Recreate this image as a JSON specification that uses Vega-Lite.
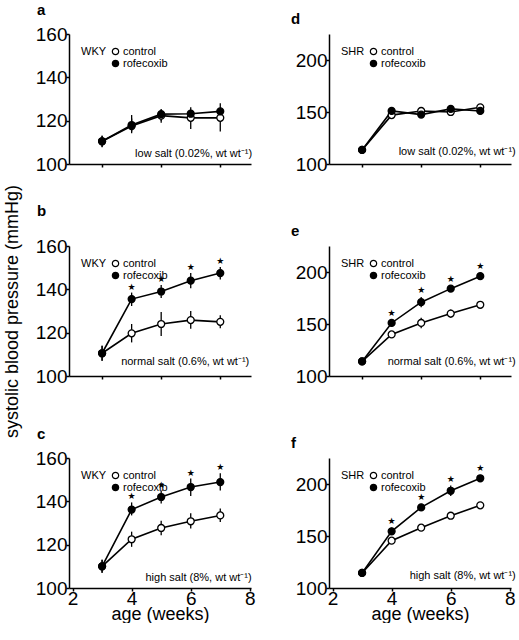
{
"$schema":"https://vega.github.io/schema/vega-lite/v6.json",
"padding":{"left":3,"top":3,"right":0,"bottom":0},
"datasets":{
"bp":[
{"panel":"a","age":3,"treatment":"control","bp":110.5,"lo":107.7,"hi":113,"sig":0},
{"panel":"a","age":4,"treatment":"control","bp":117.5,"lo":114.2,"hi":121,"sig":0},
{"panel":"a","age":5,"treatment":"control","bp":122.3,"lo":119,"hi":125,"sig":0},
{"panel":"a","age":6,"treatment":"control","bp":121.3,"lo":116.2,"hi":124.5,"sig":0},
{"panel":"a","age":7,"treatment":"control","bp":121.3,"lo":115,"hi":125,"sig":0},
{"panel":"a","age":3,"treatment":"rofecoxib","bp":110.5,"lo":108,"hi":113,"sig":0},
{"panel":"a","age":4,"treatment":"rofecoxib","bp":118,"lo":115,"hi":122.6,"sig":0},
{"panel":"a","age":5,"treatment":"rofecoxib","bp":123,"lo":120,"hi":125.4,"sig":0},
{"panel":"a","age":6,"treatment":"rofecoxib","bp":123.2,"lo":120.5,"hi":126.2,"sig":0},
{"panel":"a","age":7,"treatment":"rofecoxib","bp":124.3,"lo":121,"hi":128,"sig":0},
{"panel":"b","age":3,"treatment":"control","bp":110.5,"lo":107,"hi":114,"sig":0},
{"panel":"b","age":4,"treatment":"control","bp":119.7,"lo":115.5,"hi":124,"sig":0},
{"panel":"b","age":5,"treatment":"control","bp":124,"lo":118.5,"hi":129.5,"sig":0},
{"panel":"b","age":6,"treatment":"control","bp":125.8,"lo":121.8,"hi":130,"sig":0},
{"panel":"b","age":7,"treatment":"control","bp":125,"lo":122,"hi":128,"sig":0},
{"panel":"b","age":3,"treatment":"rofecoxib","bp":110.5,"lo":107,"hi":114,"sig":0},
{"panel":"b","age":4,"treatment":"rofecoxib","bp":135.5,"lo":132.3,"hi":138.5,"sig":1},
{"panel":"b","age":5,"treatment":"rofecoxib","bp":139,"lo":136,"hi":142,"sig":1},
{"panel":"b","age":6,"treatment":"rofecoxib","bp":144,"lo":140.5,"hi":147.5,"sig":1},
{"panel":"b","age":7,"treatment":"rofecoxib","bp":147.5,"lo":144.5,"hi":150.3,"sig":1},
{"panel":"c","age":3,"treatment":"control","bp":110,"lo":107,"hi":113,"sig":0},
{"panel":"c","age":4,"treatment":"control","bp":122.5,"lo":119,"hi":126,"sig":0},
{"panel":"c","age":5,"treatment":"control","bp":127.7,"lo":124.3,"hi":131,"sig":0},
{"panel":"c","age":6,"treatment":"control","bp":130.8,"lo":127.5,"hi":134.5,"sig":0},
{"panel":"c","age":7,"treatment":"control","bp":133.5,"lo":130.5,"hi":136.7,"sig":0},
{"panel":"c","age":3,"treatment":"rofecoxib","bp":110,"lo":107,"hi":113,"sig":0},
{"panel":"c","age":4,"treatment":"rofecoxib","bp":136.2,"lo":133.5,"hi":139.5,"sig":1},
{"panel":"c","age":5,"treatment":"rofecoxib","bp":142,"lo":139,"hi":145,"sig":1},
{"panel":"c","age":6,"treatment":"rofecoxib","bp":146.6,"lo":142.5,"hi":150.5,"sig":1},
{"panel":"c","age":7,"treatment":"rofecoxib","bp":148.9,"lo":145,"hi":153,"sig":1},
{"panel":"d","age":3,"treatment":"control","bp":113.5,"lo":111.5,"hi":115.5,"sig":0},
{"panel":"d","age":4,"treatment":"control","bp":147,"lo":145,"hi":149,"sig":0},
{"panel":"d","age":5,"treatment":"control","bp":151,"lo":149,"hi":153,"sig":0},
{"panel":"d","age":6,"treatment":"control","bp":150,"lo":148,"hi":152,"sig":0},
{"panel":"d","age":7,"treatment":"control","bp":154.5,"lo":152.5,"hi":156.5,"sig":0},
{"panel":"d","age":3,"treatment":"rofecoxib","bp":113.5,"lo":111.5,"hi":115.5,"sig":0},
{"panel":"d","age":4,"treatment":"rofecoxib","bp":151,"lo":148.5,"hi":153.5,"sig":0},
{"panel":"d","age":5,"treatment":"rofecoxib","bp":147.5,"lo":145.5,"hi":149.5,"sig":0},
{"panel":"d","age":6,"treatment":"rofecoxib","bp":153,"lo":151,"hi":155,"sig":0},
{"panel":"d","age":7,"treatment":"rofecoxib","bp":151,"lo":149,"hi":153,"sig":0},
{"panel":"e","age":3,"treatment":"control","bp":114,"lo":111.5,"hi":116.5,"sig":0},
{"panel":"e","age":4,"treatment":"control","bp":140,"lo":137.5,"hi":142.5,"sig":0},
{"panel":"e","age":5,"treatment":"control","bp":151,"lo":146,"hi":156,"sig":0},
{"panel":"e","age":6,"treatment":"control","bp":160,"lo":156,"hi":164,"sig":0},
{"panel":"e","age":7,"treatment":"control","bp":168.5,"lo":166,"hi":171,"sig":0},
{"panel":"e","age":3,"treatment":"rofecoxib","bp":114,"lo":111.5,"hi":116.5,"sig":0},
{"panel":"e","age":4,"treatment":"rofecoxib","bp":151,"lo":148,"hi":154,"sig":1},
{"panel":"e","age":5,"treatment":"rofecoxib","bp":171,"lo":166,"hi":176,"sig":1},
{"panel":"e","age":6,"treatment":"rofecoxib","bp":184,"lo":181,"hi":187,"sig":1},
{"panel":"e","age":7,"treatment":"rofecoxib","bp":196,"lo":193,"hi":199,"sig":1},
{"panel":"f","age":3,"treatment":"control","bp":114.5,"lo":112,"hi":117,"sig":0},
{"panel":"f","age":4,"treatment":"control","bp":145.5,"lo":143,"hi":148,"sig":0},
{"panel":"f","age":5,"treatment":"control","bp":158,"lo":156,"hi":160,"sig":0},
{"panel":"f","age":6,"treatment":"control","bp":169.5,"lo":167.5,"hi":171.5,"sig":0},
{"panel":"f","age":7,"treatment":"control","bp":179.5,"lo":177,"hi":182,"sig":0},
{"panel":"f","age":3,"treatment":"rofecoxib","bp":114.5,"lo":112,"hi":117,"sig":0},
{"panel":"f","age":4,"treatment":"rofecoxib","bp":154.5,"lo":151,"hi":158,"sig":1},
{"panel":"f","age":5,"treatment":"rofecoxib","bp":177.5,"lo":174,"hi":181,"sig":1},
{"panel":"f","age":6,"treatment":"rofecoxib","bp":193.5,"lo":188.5,"hi":198.5,"sig":1},
{"panel":"f","age":7,"treatment":"rofecoxib","bp":205.5,"lo":202.5,"hi":208.5,"sig":1}
],
"notes":[
{"panel":"a","note":"low salt (0.02%, wt wt⁻¹)"},
{"panel":"b","note":"normal salt (0.6%, wt wt⁻¹)"},
{"panel":"c","note":"high salt (8%, wt wt⁻¹)"},
{"panel":"d","note":"low salt (0.02%, wt wt⁻¹)"},
{"panel":"e","note":"normal salt (0.6%, wt wt⁻¹)"},
{"panel":"f","note":"high salt (8%, wt wt⁻¹)"}
]
},
"concat":[
{"width":182,"height":130,"title":{"text":"a","dx":-32},"data":{"name":"bp"},"transform":[{"filter":"datum.panel == 'a'"}],
"layer":[
{"mark":{"type":"rule","color":"black","strokeWidth":1.3},"encoding":{"x":{"field":"age","type":"quantitative","scale":{"domain":[1.88,8.04],"nice":false},"axis":{"values":[3,4,5,6,7,8],"labels":false,"title":null}},"y":{"field":"lo","type":"quantitative","scale":{"domain":[100,160],"nice":false,"zero":false},"axis":{"values":[100,120,140,160],"title":null}},"y2":{"field":"hi"},"detail":{"field":"treatment"}}},
{"mark":{"type":"line","color":"black","strokeWidth":1.6},"encoding":{"x":{"field":"age","type":"quantitative","scale":{"domain":[1.88,8.04],"nice":false}},"y":{"field":"bp","type":"quantitative","scale":{"domain":[100,160],"nice":false,"zero":false}},"detail":{"field":"treatment"},"order":{"field":"age"}}},
{"mark":{"type":"point","shape":"circle","filled":true,"stroke":"black","strokeWidth":1.3,"size":48,"opacity":1},"encoding":{"x":{"field":"age","type":"quantitative","scale":{"domain":[1.88,8.04],"nice":false}},"y":{"field":"bp","type":"quantitative","scale":{"domain":[100,160],"nice":false,"zero":false}},"fill":{"field":"treatment","type":"nominal","scale":{"domain":["control","rofecoxib"],"range":["white","black"]},"legend":{"title":"WKY"}}}},
{"data":{"name":"notes"},"transform":[{"filter":"datum.panel == 'a'"}],"mark":{"type":"text","align":"right","baseline":"middle","fontSize":11,"color":"black"},"encoding":{"x":{"datum":8.08,"type":"quantitative","scale":{"domain":[1.88,8.04],"nice":false}},"y":{"datum":104.6,"type":"quantitative","scale":{"domain":[100,160],"nice":false,"zero":false}},"text":{"field":"note"}}}
]},
{"width":182,"height":130,"title":{"text":"d","dx":-38},"data":{"name":"bp"},"transform":[{"filter":"datum.panel == 'd'"}],
"layer":[
{"mark":{"type":"rule","color":"black","strokeWidth":1.3},"encoding":{"x":{"field":"age","type":"quantitative","scale":{"domain":[1.88,8.04],"nice":false},"axis":{"values":[3,4,5,6,7,8],"labels":false,"title":null}},"y":{"field":"lo","type":"quantitative","scale":{"domain":[100,225],"nice":false,"zero":false},"axis":{"values":[100,125,150,175,200],"labelExpr":"datum.value % 50 == 0 ? datum.label : ''","title":null}},"y2":{"field":"hi"},"detail":{"field":"treatment"}}},
{"mark":{"type":"line","color":"black","strokeWidth":1.6},"encoding":{"x":{"field":"age","type":"quantitative","scale":{"domain":[1.88,8.04],"nice":false}},"y":{"field":"bp","type":"quantitative","scale":{"domain":[100,225],"nice":false,"zero":false}},"detail":{"field":"treatment"},"order":{"field":"age"}}},
{"mark":{"type":"point","shape":"circle","filled":true,"stroke":"black","strokeWidth":1.3,"size":48,"opacity":1},"encoding":{"x":{"field":"age","type":"quantitative","scale":{"domain":[1.88,8.04],"nice":false}},"y":{"field":"bp","type":"quantitative","scale":{"domain":[100,225],"nice":false,"zero":false}},"fill":{"field":"treatment","type":"nominal","scale":{"domain":["control","rofecoxib"],"range":["white","black"]},"legend":{"title":"SHR"}}}},
{"data":{"name":"notes"},"transform":[{"filter":"datum.panel == 'd'"}],"mark":{"type":"text","align":"right","baseline":"middle","fontSize":11,"color":"black"},"encoding":{"x":{"datum":8.2,"type":"quantitative","scale":{"domain":[1.88,8.04],"nice":false}},"y":{"datum":111.5,"type":"quantitative","scale":{"domain":[100,225],"nice":false,"zero":false}},"text":{"field":"note"}}}
]},
{"width":182,"height":130,"title":{"text":"b","dx":-32,"dy":42},"data":{"name":"bp"},"transform":[{"filter":"datum.panel == 'b'"}],
"layer":[
{"mark":{"type":"rule","color":"black","strokeWidth":1.3},"encoding":{"x":{"field":"age","type":"quantitative","scale":{"domain":[1.88,8.04],"nice":false},"axis":{"values":[3,4,5,6,7,8],"labels":false,"title":null}},"y":{"field":"lo","type":"quantitative","scale":{"domain":[100,160],"nice":false,"zero":false},"axis":{"values":[100,120,140,160],"title":"systolic blood pressure (mmHg)","titlePadding":14}},"y2":{"field":"hi"},"detail":{"field":"treatment"}}},
{"mark":{"type":"line","color":"black","strokeWidth":1.6},"encoding":{"x":{"field":"age","type":"quantitative","scale":{"domain":[1.88,8.04],"nice":false}},"y":{"field":"bp","type":"quantitative","scale":{"domain":[100,160],"nice":false,"zero":false}},"detail":{"field":"treatment"},"order":{"field":"age"}}},
{"mark":{"type":"point","shape":"circle","filled":true,"stroke":"black","strokeWidth":1.3,"size":48,"opacity":1},"encoding":{"x":{"field":"age","type":"quantitative","scale":{"domain":[1.88,8.04],"nice":false}},"y":{"field":"bp","type":"quantitative","scale":{"domain":[100,160],"nice":false,"zero":false}},"fill":{"field":"treatment","type":"nominal","scale":{"domain":["control","rofecoxib"],"range":["white","black"]},"legend":{"title":"WKY"}}}},
{"transform":[{"filter":"datum.sig == 1"}],"mark":{"type":"text","text":"★","dy":-6,"fontSize":9,"font":"DejaVu Sans","color":"black"},"encoding":{"x":{"field":"age","type":"quantitative","scale":{"domain":[1.88,8.04],"nice":false}},"y":{"field":"hi","type":"quantitative","scale":{"domain":[100,160],"nice":false,"zero":false}}}},
{"data":{"name":"notes"},"transform":[{"filter":"datum.panel == 'b'"}],"mark":{"type":"text","align":"right","baseline":"middle","fontSize":11,"color":"black"},"encoding":{"x":{"datum":7.98,"type":"quantitative","scale":{"domain":[1.88,8.04],"nice":false}},"y":{"datum":106.5,"type":"quantitative","scale":{"domain":[100,160],"nice":false,"zero":false}},"text":{"field":"note"}}}
]},
{"width":182,"height":130,"title":{"text":"e","dx":-38},"data":{"name":"bp"},"transform":[{"filter":"datum.panel == 'e'"}],
"layer":[
{"mark":{"type":"rule","color":"black","strokeWidth":1.3},"encoding":{"x":{"field":"age","type":"quantitative","scale":{"domain":[1.88,8.04],"nice":false},"axis":{"values":[3,4,5,6,7,8],"labels":false,"title":null}},"y":{"field":"lo","type":"quantitative","scale":{"domain":[100,225],"nice":false,"zero":false},"axis":{"values":[100,125,150,175,200],"labelExpr":"datum.value % 50 == 0 ? datum.label : ''","title":null}},"y2":{"field":"hi"},"detail":{"field":"treatment"}}},
{"mark":{"type":"line","color":"black","strokeWidth":1.6},"encoding":{"x":{"field":"age","type":"quantitative","scale":{"domain":[1.88,8.04],"nice":false}},"y":{"field":"bp","type":"quantitative","scale":{"domain":[100,225],"nice":false,"zero":false}},"detail":{"field":"treatment"},"order":{"field":"age"}}},
{"mark":{"type":"point","shape":"circle","filled":true,"stroke":"black","strokeWidth":1.3,"size":48,"opacity":1},"encoding":{"x":{"field":"age","type":"quantitative","scale":{"domain":[1.88,8.04],"nice":false}},"y":{"field":"bp","type":"quantitative","scale":{"domain":[100,225],"nice":false,"zero":false}},"fill":{"field":"treatment","type":"nominal","scale":{"domain":["control","rofecoxib"],"range":["white","black"]},"legend":{"title":"SHR"}}}},
{"transform":[{"filter":"datum.sig == 1"}],"mark":{"type":"text","text":"★","dy":-7,"fontSize":9,"font":"DejaVu Sans","color":"black"},"encoding":{"x":{"field":"age","type":"quantitative","scale":{"domain":[1.88,8.04],"nice":false}},"y":{"field":"hi","type":"quantitative","scale":{"domain":[100,225],"nice":false,"zero":false}}}},
{"data":{"name":"notes"},"transform":[{"filter":"datum.panel == 'e'"}],"mark":{"type":"text","align":"right","baseline":"middle","fontSize":11,"color":"black"},"encoding":{"x":{"datum":8.2,"type":"quantitative","scale":{"domain":[1.88,8.04],"nice":false}},"y":{"datum":113,"type":"quantitative","scale":{"domain":[100,225],"nice":false,"zero":false}},"text":{"field":"note"}}}
]},
{"width":182,"height":130,"title":{"text":"c","dx":-32},"data":{"name":"bp"},"transform":[{"filter":"datum.panel == 'c'"}],
"layer":[
{"mark":{"type":"rule","color":"black","strokeWidth":1.3},"encoding":{"x":{"field":"age","type":"quantitative","scale":{"domain":[1.88,8.04],"nice":false},"axis":{"values":[2,3,4,5,6,7,8],"labelExpr":"datum.value % 2 == 0 ? datum.label : ''","title":"age (weeks)"}},"y":{"field":"lo","type":"quantitative","scale":{"domain":[100,160],"nice":false,"zero":false},"axis":{"values":[100,120,140,160],"title":null}},"y2":{"field":"hi"},"detail":{"field":"treatment"}}},
{"mark":{"type":"line","color":"black","strokeWidth":1.6},"encoding":{"x":{"field":"age","type":"quantitative","scale":{"domain":[1.88,8.04],"nice":false}},"y":{"field":"bp","type":"quantitative","scale":{"domain":[100,160],"nice":false,"zero":false}},"detail":{"field":"treatment"},"order":{"field":"age"}}},
{"mark":{"type":"point","shape":"circle","filled":true,"stroke":"black","strokeWidth":1.3,"size":48,"opacity":1},"encoding":{"x":{"field":"age","type":"quantitative","scale":{"domain":[1.88,8.04],"nice":false}},"y":{"field":"bp","type":"quantitative","scale":{"domain":[100,160],"nice":false,"zero":false}},"fill":{"field":"treatment","type":"nominal","scale":{"domain":["control","rofecoxib"],"range":["white","black"]},"legend":{"title":"WKY"}}}},
{"transform":[{"filter":"datum.sig == 1"}],"mark":{"type":"text","text":"★","dy":-6,"fontSize":9,"font":"DejaVu Sans","color":"black"},"encoding":{"x":{"field":"age","type":"quantitative","scale":{"domain":[1.88,8.04],"nice":false}},"y":{"field":"hi","type":"quantitative","scale":{"domain":[100,160],"nice":false,"zero":false}}}},
{"data":{"name":"notes"},"transform":[{"filter":"datum.panel == 'c'"}],"mark":{"type":"text","align":"right","baseline":"middle","fontSize":11,"color":"black"},"encoding":{"x":{"datum":8.06,"type":"quantitative","scale":{"domain":[1.88,8.04],"nice":false}},"y":{"datum":104.6,"type":"quantitative","scale":{"domain":[100,160],"nice":false,"zero":false}},"text":{"field":"note"}}}
]},
{"width":182,"height":130,"title":{"text":"f","dx":-38},"data":{"name":"bp"},"transform":[{"filter":"datum.panel == 'f'"}],
"layer":[
{"mark":{"type":"rule","color":"black","strokeWidth":1.3},"encoding":{"x":{"field":"age","type":"quantitative","scale":{"domain":[1.88,8.04],"nice":false},"axis":{"values":[2,3,4,5,6,7,8],"labelExpr":"datum.value % 2 == 0 ? datum.label : ''","title":"age (weeks)"}},"y":{"field":"lo","type":"quantitative","scale":{"domain":[100,225],"nice":false,"zero":false},"axis":{"values":[100,125,150,175,200],"labelExpr":"datum.value % 50 == 0 ? datum.label : ''","title":null}},"y2":{"field":"hi"},"detail":{"field":"treatment"}}},
{"mark":{"type":"line","color":"black","strokeWidth":1.6},"encoding":{"x":{"field":"age","type":"quantitative","scale":{"domain":[1.88,8.04],"nice":false}},"y":{"field":"bp","type":"quantitative","scale":{"domain":[100,225],"nice":false,"zero":false}},"detail":{"field":"treatment"},"order":{"field":"age"}}},
{"mark":{"type":"point","shape":"circle","filled":true,"stroke":"black","strokeWidth":1.3,"size":48,"opacity":1},"encoding":{"x":{"field":"age","type":"quantitative","scale":{"domain":[1.88,8.04],"nice":false}},"y":{"field":"bp","type":"quantitative","scale":{"domain":[100,225],"nice":false,"zero":false}},"fill":{"field":"treatment","type":"nominal","scale":{"domain":["control","rofecoxib"],"range":["white","black"]},"legend":{"title":"SHR"}}}},
{"transform":[{"filter":"datum.sig == 1"}],"mark":{"type":"text","text":"★","dy":-7,"fontSize":9,"font":"DejaVu Sans","color":"black"},"encoding":{"x":{"field":"age","type":"quantitative","scale":{"domain":[1.88,8.04],"nice":false}},"y":{"field":"hi","type":"quantitative","scale":{"domain":[100,225],"nice":false,"zero":false}}}},
{"data":{"name":"notes"},"transform":[{"filter":"datum.panel == 'f'"}],"mark":{"type":"text","align":"right","baseline":"middle","fontSize":11,"color":"black"},"encoding":{"x":{"datum":8.2,"type":"quantitative","scale":{"domain":[1.88,8.04],"nice":false}},"y":{"datum":111.5,"type":"quantitative","scale":{"domain":[100,225],"nice":false,"zero":false}},"text":{"field":"note"}}}
]}
],
"columns":2,
"spacing":{"row":82,"column":78},
"bounds":"flush",
"resolve":{"scale":{"fill":"independent"},"legend":{"fill":"independent"}},
"config":{
"view":{"stroke":null},
"font":"Liberation Sans",
"axis":{"domainColor":"black","domainWidth":1.5,"tickColor":"black","tickWidth":1.5,"tickSize":3,"labelColor":"black","labelFont":"Liberation Sans","labelFontSize":19,"titleFont":"Liberation Sans","titleFontSize":18,"titleFontWeight":"normal","titleColor":"black","grid":false},
"axisY":{"labelPadding":-1},
"axisX":{"labelPadding":-2,"titlePadding":-3},
"title":{"anchor":"start","frame":"group","fontSize":15,"fontWeight":"bold","font":"Liberation Sans","color":"black","offset":7},
"legend":{"orient":"top-left","offset":12,"titleOrient":"left","titleAnchor":"start","titleFontWeight":"normal","titleFontSize":11,"titleFont":"Liberation Sans","titleColor":"black","labelFont":"Liberation Sans","labelFontSize":11,"labelColor":"black","symbolType":"circle","symbolSize":40,"symbolStrokeColor":"black","symbolStrokeWidth":1.2,"rowPadding":-2,"labelOffset":2,"padding":0,"titlePadding":3}
}
}
